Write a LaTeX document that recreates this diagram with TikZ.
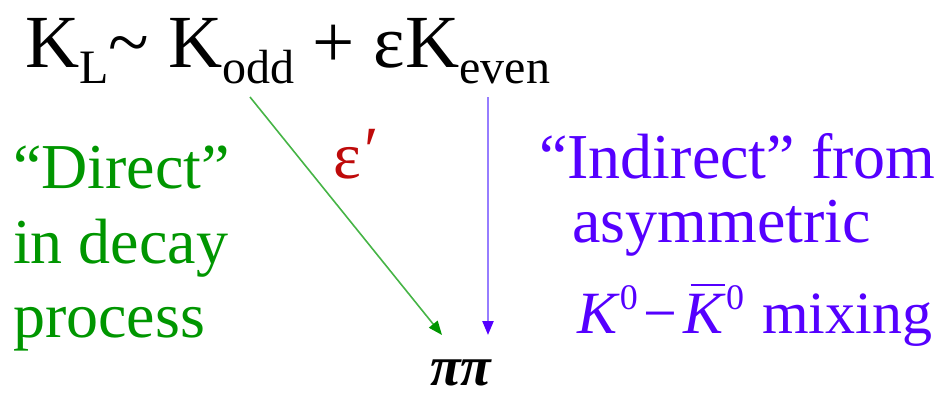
\documentclass[tikz,border=0pt]{standalone}
\usepackage{fontspec}
\setmainfont{Liberation Serif}
\usetikzlibrary{arrows.meta,positioning}

\definecolor{directgreen}{RGB}{0,150,0}
\definecolor{directline}{RGB}{70,180,70}
\definecolor{indirectblue}{RGB}{85,0,255}
\definecolor{indirectline}{RGB}{150,125,255}
\definecolor{primered}{RGB}{190,10,10}

\newcommand\lowsub[1]{\raisebox{-16pt}{\fontsize{48}{50}\selectfont #1}}
\newcommand\highsup[1]{\raisebox{24pt}{\fontsize{36}{38}\selectfont #1}}
\newcommand\barK{\makebox[0pt][l]{\hspace{7pt}\rule[47pt]{34pt}{2pt}}\textit{K}}

\begin{document}
\begin{tikzpicture}[
        x=1pt, y=-1pt,
        every node/.style={inner sep=0pt, anchor=base west},
        title/.style={font=\fontsize{75}{80}\selectfont},
        direct/.style={text=directgreen, font=\fontsize{64}{70}\selectfont},
        indirect/.style={text=indirectblue, font=\fontsize{64}{70}\selectfont},
        directarrow/.style={draw=directline, line width=1.6pt,
            -{Triangle[length=14pt, width=11pt, color=directgreen]}},
        indirectarrow/.style={draw=indirectline, line width=2.2pt,
            -{Triangle[length=14pt, width=11pt, color=indirectblue]}},
    ]
        \useasboundingbox (0,0) rectangle (948,399);

        % Title
        \node[title] (kl) at (25,67)
            {K\lowsub{L}\textasciitilde\ K\lowsub{odd} + εK\lowsub{even}};

        % Left text
        \node[direct] (direct1) at (13,188) {“Direct”};
        \node[direct] (direct2) at (13,263) {in decay};
        \node[direct] (direct3) at (13,337) {process};

        % Right text
        \node[indirect] (indirect1) at (539,178) {“Indirect” from};
        \node[indirect] (indirect2) at (572,242) {asymmetric};
        \node[indirect, font=\fontsize{60}{66}\selectfont] (indirect3) at (577,333)
            {\textit{K}\highsup{0}\hspace{6pt}−\hspace{6pt}\barK\highsup{0}\hspace{18pt}mixing};

        % Final state
        \node[font=\fontsize{56}{60}\selectfont\bfseries\itshape] (pipi) at (430,385) {ππ};
        \node[text=primered, font=\fontsize{66}{70}\selectfont] (eps) at (333,178)
            {ε\hspace{4pt}\raisebox{6pt}{′}};

        % Arrows
        \coordinate (oddfoot) at (250,97);
        \coordinate (evenfoot) at (488,97);
        \coordinate (pipileft) at (442,335);
        \coordinate (pipiright) at (488,335);
        \draw[directarrow] (oddfoot) -- (pipileft);
        \draw[indirectarrow] (evenfoot) -- (pipiright);
    \end{tikzpicture}
\end{document}
